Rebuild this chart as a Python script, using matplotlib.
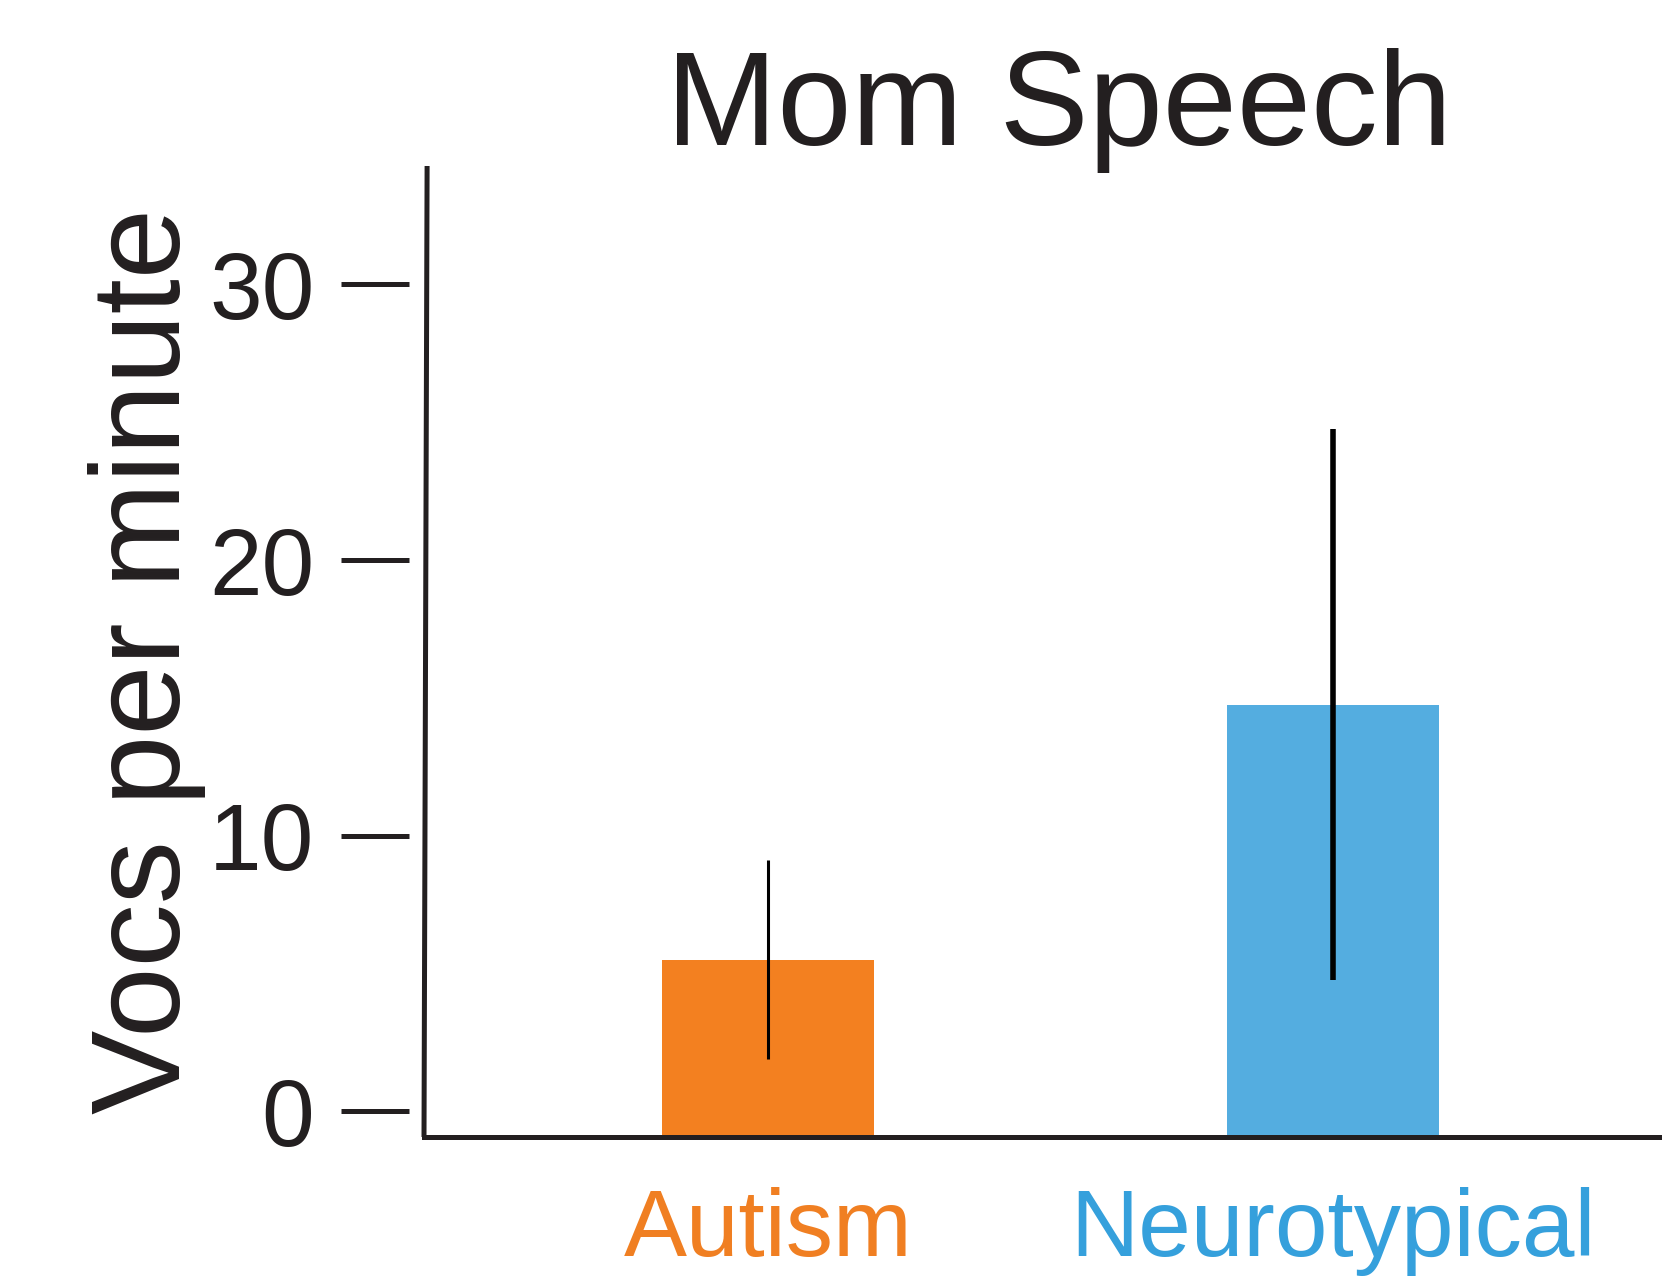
import numpy as np
import matplotlib.pyplot as plt
from matplotlib.transforms import ScaledTranslation

# ---------------- data ----------------
groups = ['Autism', 'Neurotypical']
means = [5.5, 14.75]
errs = [3.6, 10.0]
bar_colors = ['#F38020', '#54ADE0']
label_colors = ['#F07F22', '#35A0DC']
yticks = [0, 10, 20, 30]

ink = '#231F20'
fam = ['Liberation Sans', 'DejaVu Sans']

# ---------------- figure ----------------
fig = plt.figure(figsize=(16.62, 12.8), dpi=100)
ax = fig.add_axes([424 / 1662, 1 - 1137 / 1280, 1 - 424 / 1662, (1137 - 166) / 1280])

ymin, ymax = -0.94, 34.3
x = np.arange(len(groups))

# bars sit on the x axis line (drawn a bit below the "0" tick)
ax.bar(x, np.array(means) - ymin, bottom=ymin, width=0.376,
       color=bar_colors, edgecolor='none', zorder=1)

# error bars (different thickness in the original)
ax.vlines(x[0], means[0] - errs[0], means[0] + errs[0], color='black', lw=2.2, zorder=3)
ax.vlines(x[1], means[1] - errs[1], means[1] + errs[1], color='black', lw=4.0, zorder=3)

ax.set_xlim(-0.61, 1.583)
ax.set_ylim(ymin, ymax)

# y axis: ticks detached from the visible spine
ax.spines['left'].set_position(('outward', 11))
ax.spines['left'].set_visible(False)
ax.spines['top'].set_visible(False)
ax.spines['right'].set_visible(False)
ax.spines['bottom'].set_linewidth(3.6)
ax.spines['bottom'].set_color(ink)
ax.set_yticks(yticks)
ax.set_yticklabels([str(t) for t in yticks], family=fam, fontsize=68, color=ink)
ax.tick_params(axis='y', length=49, width=3.6, color=ink, pad=19, direction='out')

# hand drawn left spine, slightly leaning
ax.plot([0.0, 0.0025], [0, 1], transform=ax.transAxes, color=ink, lw=3.6,
        clip_on=False, solid_capstyle='butt', zorder=4)

ax.set_xticks(x)
ax.set_xticklabels(groups, family=fam, fontsize=68)
shift = ScaledTranslation(0.15, 0, fig.dpi_scale_trans)
for lab, c in zip(ax.get_xticklabels(), label_colors):
    lab.set_color(c)
    lab.set_transform(lab.get_transform() + shift)
ax.tick_params(axis='x', length=0, pad=36)

fig.text(1059 / 1662, 1 - 145 / 1280, 'Mom Speech', ha='center', va='baseline',
         family=fam, fontsize=96, color=ink)
fig.text(147 / 1662, 1 - 661 / 1280, 'Vocs per minute', ha='center', va='center',
         rotation=90, family=fam, fontsize=91, color=ink)

fig.savefig('out.png', dpi=100)
